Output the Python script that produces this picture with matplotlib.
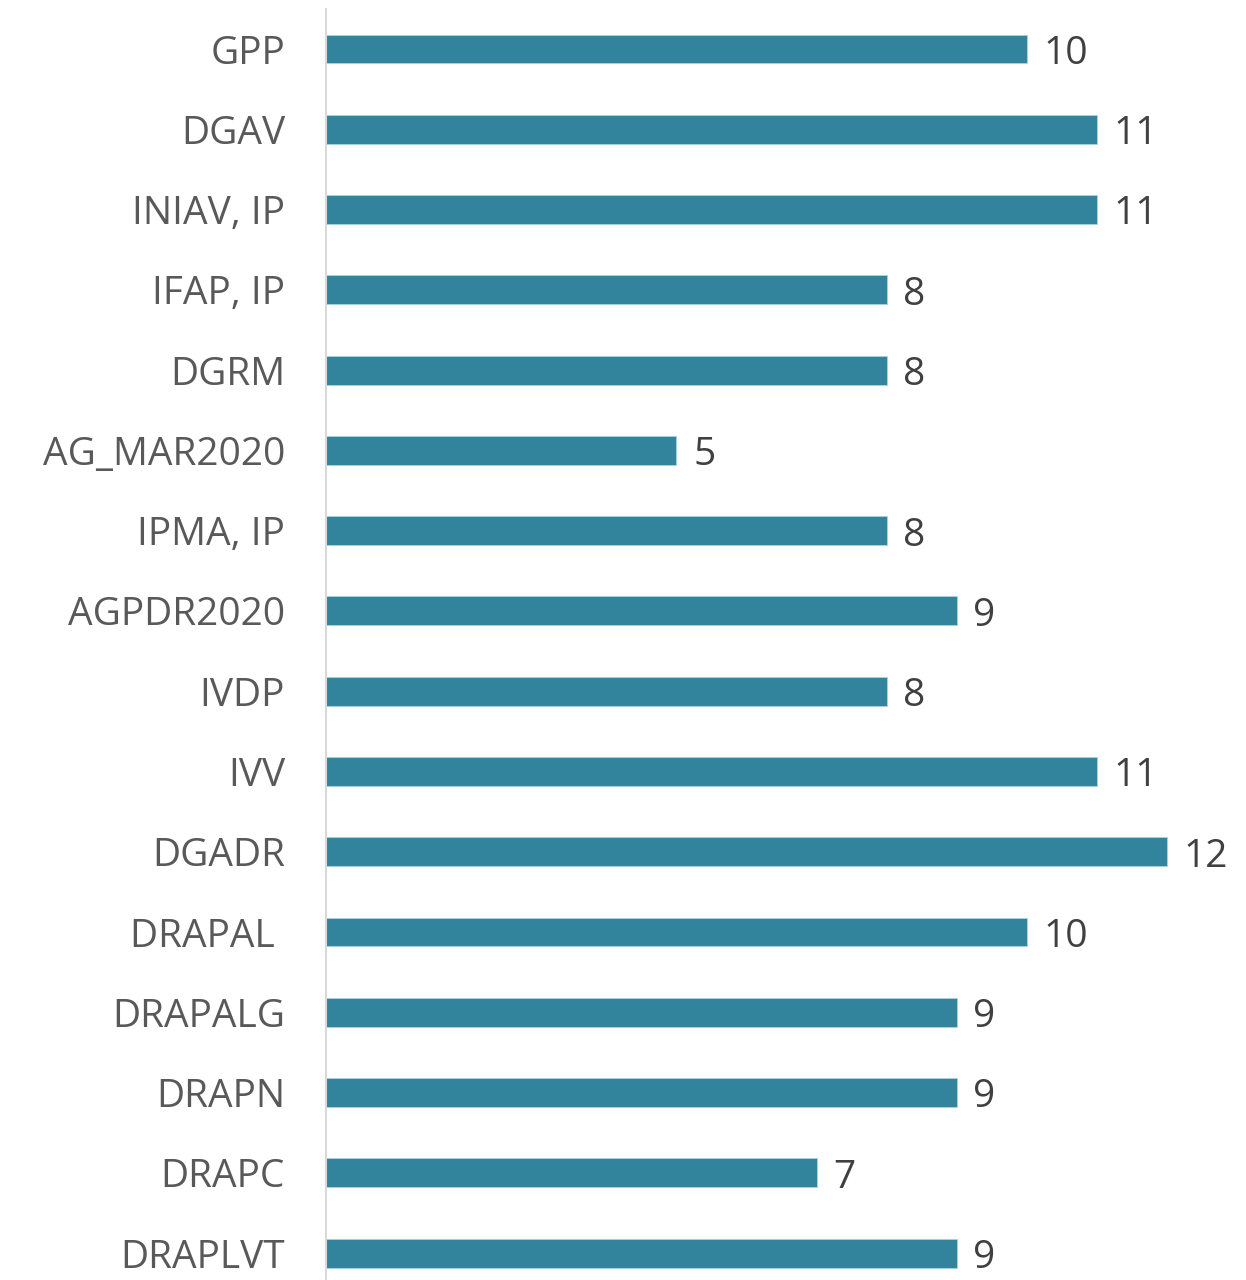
import matplotlib
matplotlib.use("Agg")
import matplotlib.pyplot as plt

categories = ["GPP", "DGAV", "INIAV, IP", "IFAP, IP", "DGRM", "AG_MAR2020", "IPMA, IP",
              "AGPDR2020", "IVDP", "IVV", "DGADR", "DRAPAL ", "DRAPALG", "DRAPN", "DRAPC", "DRAPLVT"]
values = [10, 11, 11, 8, 8, 5, 8, 9, 8, 11, 12, 10, 9, 9, 7, 9]

W, H = 1246, 1280
fig = plt.figure(figsize=(W / 100, H / 100), dpi=100)

px_per_unit = 70.08
spacing = 80.27
left_px = 326
top_px = 8.9
n = len(categories)
ax_h_px = n * spacing
xmax = (W - left_px) / px_per_unit

ax = fig.add_axes([left_px / W, 1 - (top_px + ax_h_px) / H, (W - left_px) / W, ax_h_px / H])
ypos = list(range(n))
ax.barh(ypos, values, height=0.36, color="#31849B", edgecolor="#a9d3df", linewidth=0.6)
ax.set_xlim(0, xmax)
ax.set_ylim(n - 0.5, -0.5)
ax.set_yticks(ypos)
ax.set_yticklabels(categories, fontsize=28, color="#595959", family="Open Sans")
ax.tick_params(axis="y", length=0, pad=29.5)
ax.set_xticks([])
for s in ["top", "right", "bottom"]:
    ax.spines[s].set_visible(False)
ax.spines["left"].set_color("#d9d9d9")
ax.spines["left"].set_linewidth(1.5)

for y, v in zip(ypos, values):
    ax.annotate(str(v), (v, y), xytext=(12, -3.5), textcoords="offset points",
                ha="left", va="center", fontsize=28, color="#404040", family="Open Sans")

fig.savefig("out.png", dpi=100)
